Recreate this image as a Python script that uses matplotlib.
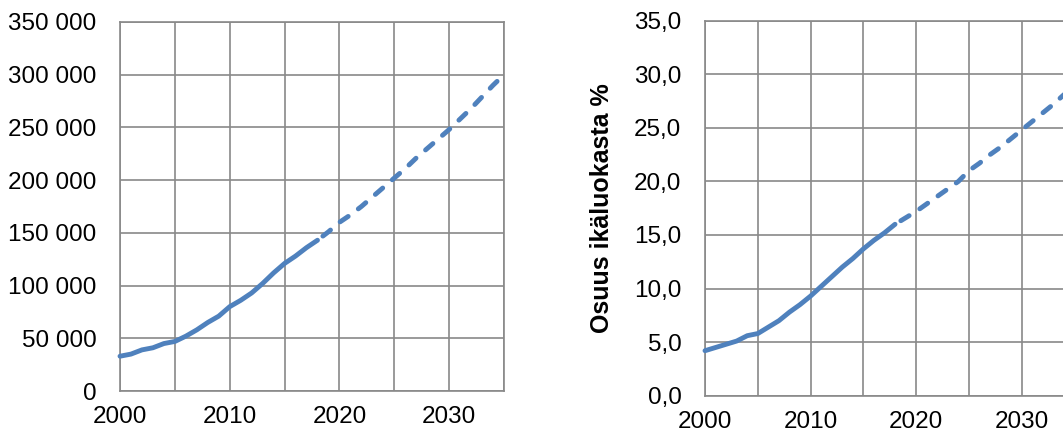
import matplotlib
matplotlib.use("Agg")
import matplotlib.pyplot as plt
from matplotlib.ticker import MultipleLocator, FuncFormatter

plt.rcParams['font.family'] = ['Liberation Sans', 'DejaVu Sans']

# ---- data ----
years_obs = [2000, 2001, 2002, 2003, 2004, 2005, 2006, 2007, 2008, 2009,
             2010, 2011, 2012, 2013, 2014, 2015, 2016, 2017, 2018]
years_proj = [2018, 2019, 2020, 2021, 2022, 2023, 2024, 2025, 2026, 2027,
              2028, 2029, 2030, 2031, 2032, 2033, 2034, 2035]

count_obs = [33000, 35000, 39000, 41000, 45000, 47000, 52000, 58000, 65000, 71000,
             80000, 86000, 93000, 102000, 112000, 121000, 128000, 136000, 143000]
count_proj = [143000, 151000, 160000, 167000, 175000, 184000, 193000, 202000, 211000,
              221000, 230000, 239000, 248000, 258000, 268000, 279000, 290000, 300000]

share_obs = [4.2, 4.5, 4.8, 5.1, 5.6, 5.8, 6.4, 7.0, 7.8, 8.5,
             9.3, 10.2, 11.1, 12.0, 12.8, 13.7, 14.5, 15.2, 16.0]
share_proj = [16.0, 16.6, 17.2, 17.9, 18.6, 19.3, 20.0, 21.0, 21.7, 22.5,
              23.2, 24.0, 24.8, 25.6, 26.4, 27.2, 28.1, 28.9]

right_ylabel = "Osuus ikäluokasta %"

LINE = '#4F81BD'
GRID = '#898989'
FS = 17.5

fig = plt.figure(figsize=(10.63, 4.34), dpi=100)
ax1 = fig.add_axes([120/1063, 43/434, 384/1063, 369/434])
ax2 = fig.add_axes([705/1063, 38.3/434, 369.5/1063, 375/434])


def style(ax, ymax, ystep, yfmt):
    ax.set_xlim(2000, 2035)
    ax.set_ylim(0, ymax)
    ax.xaxis.set_major_locator(MultipleLocator(5))
    ax.yaxis.set_major_locator(MultipleLocator(ystep))
    ax.xaxis.set_major_formatter(FuncFormatter(
        lambda v, p: f"{int(round(v))}" if int(round(v)) % 10 == 0 and v < 2035 else ""))
    ax.yaxis.set_major_formatter(FuncFormatter(yfmt))
    ax.grid(True, color=GRID, linewidth=1.2)
    ax.set_axisbelow(True)
    for s in ax.spines.values():
        s.set_color(GRID)
        s.set_linewidth(1.2)
    ax.tick_params(axis='both', length=0, labelsize=FS, colors='black')
    ax.tick_params(axis='y', pad=17)
    ax.tick_params(axis='x', pad=11)


def draw(ax, yo, yp):
    ax.plot(years_obs, yo, color=LINE, lw=3.5, solid_capstyle='round',
            solid_joinstyle='round', clip_on=False, zorder=3)
    ax.plot(years_proj, yp, color=LINE, lw=3.5, dash_capstyle='round',
            linestyle=(3.2, (2.0, 2.6)), clip_on=False, zorder=3)


style(ax1, 350000, 50000, lambda v, p: f"{int(round(v)):,}".replace(",", " "))
draw(ax1, count_obs, count_proj)

style(ax2, 35, 5, lambda v, p: f"{v:.1f}".replace(".", ","))
draw(ax2, share_obs, share_proj)
ax2.set_ylabel(right_ylabel, fontsize=18, fontweight='bold', va='center')
ax2.yaxis.set_label_coords(-0.279, 0.5)

fig.savefig("out.png", dpi=100)
